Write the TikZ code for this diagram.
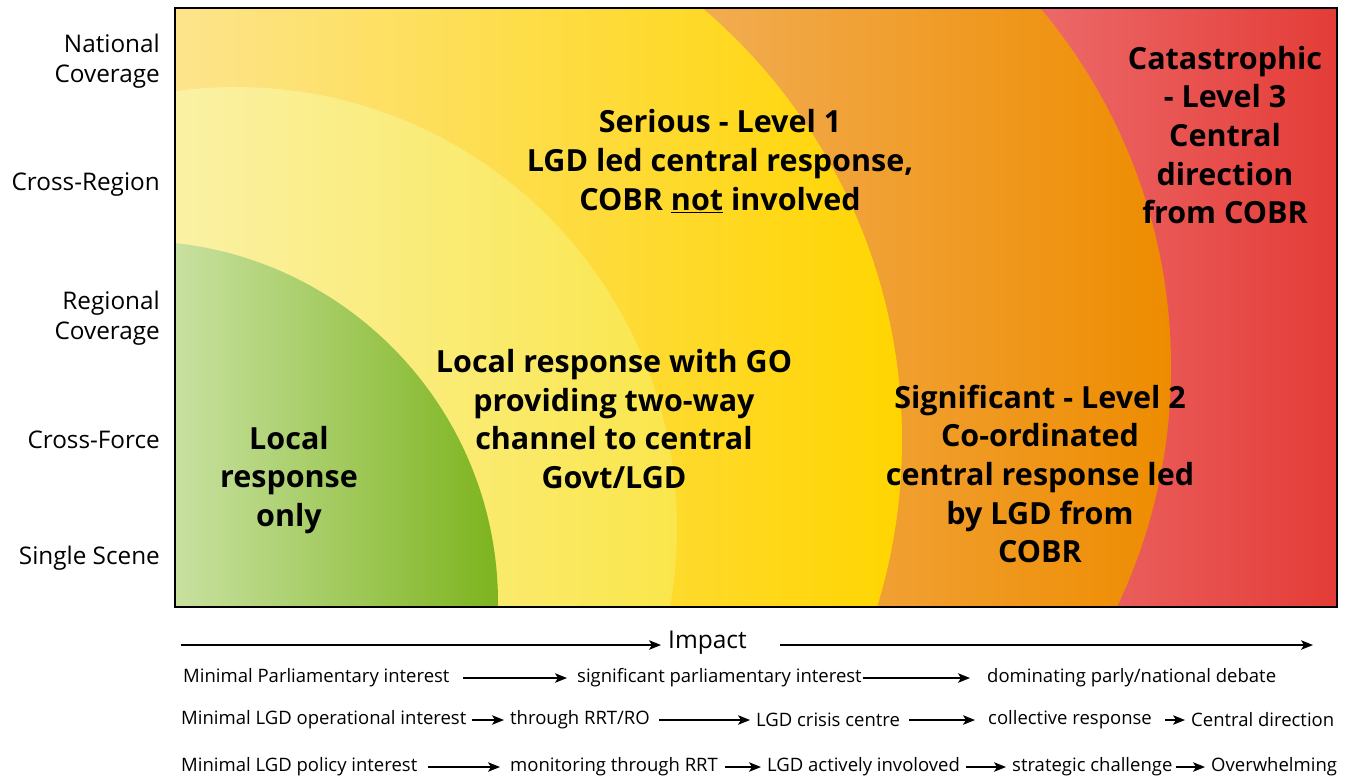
\documentclass[tikz,border=0pt]{standalone}
\usepackage{fontspec}
\setmainfont{Open Sans}
\usetikzlibrary{arrows.meta}

% zone colours (left end / right end of each horizontal blend)
\definecolor{greenL}{RGB}{200,225,160}
\definecolor{greenR}{RGB}{125,180,30}
\definecolor{paleL}{RGB}{250,241,165}
\definecolor{paleR}{RGB}{250,230,75}
\definecolor{yellowL}{RGB}{253,228,140}
\definecolor{yellowR}{RGB}{255,213,0}
\definecolor{orangeL}{RGB}{242,172,80}
\definecolor{orangeR}{RGB}{238,140,0}
\definecolor{redL}{RGB}{236,105,105}
\definecolor{redR}{RGB}{228,60,55}

\begin{document}
\begin{tikzpicture}[x=1pt,y=-1pt,
  zonetext/.style={align=center,inner sep=0pt,
    font=\fontsize{30.5}{38.7}\selectfont\bfseries},
  axislabel/.style={align=right,anchor=east,inner sep=0pt,
    font=\fontsize{24.3}{30}\selectfont},
  scaletext/.style={anchor=west,inner sep=0pt,
    font=\fontsize{18.5}{21}\selectfont},
  impacttext/.style={inner sep=0pt,font=\fontsize{24.5}{27}\selectfont},
  arr/.style={-{Stealth[length=12pt,width=9.5pt,inset=3pt]},line width=1.3pt}]

\useasboundingbox (0,0) rectangle (1354,780);
\fill[white] (0,0) rectangle (1354,780);

% ---- nested impact zones, each with a left-to-right blend ----
\begin{scope}
  \clip (175,8) rectangle (1337,607);
  % catastrophic (background)
  \fill[redL] (175,8) rectangle (1041,607);
  \shade[left color=redL,right color=redR] (1040,8) rectangle (1337,607);
  % significant
  \begin{scope}
    \clip (613,367) circle[radius=558pt];
    \fill[orangeL] (175,8) rectangle (706,607);
    \shade[left color=orangeL,right color=orangeR] (705,8) rectangle (1172,607);
  \end{scope}
  % serious
  \begin{scope}
    \clip (335,440) circle[radius=567pt];
    \shade[left color=yellowL,right color=yellowR] (175,8) rectangle (903,607);
  \end{scope}
  % local response with GO
  \begin{scope}
    \clip (236,528) circle[radius=441pt];
    \shade[left color=paleL,right color=paleR] (175,8) rectangle (677,607);
  \end{scope}
  % local response only
  \begin{scope}
    \clip (136,603) circle[radius=362pt];
    \shade[left color=greenL,right color=greenR] (175,8) rectangle (498,607);
  \end{scope}
\end{scope}
\draw[line width=1.5pt] (175,8) rectangle (1337,607);

% ---- zone captions ----
\node[zonetext] (serious) at (720,161) {Serious - Level 1\\LGD led central response,\\COBR \underline{not} involved};
\node[zonetext] (catastrophic) at (1225,135) {Catastrophic\\- Level 3\\Central\\direction\\from COBR};
\node[zonetext] (localgo) at (614,419) {Local response with GO\\providing two-way\\channel to central\\Govt/LGD};
\node[zonetext] (localonly) at (289,480) {Local\\response\\only};
\node[zonetext] (significant) at (1040,474) {Significant - Level 2\\Co-ordinated\\central response led\\by LGD from\\COBR};

% ---- coverage axis ----
\node[axislabel] (national) at (160,61) {National\\Coverage};
\node[axislabel] (crossregion) at (160,184) {Cross-Region};
\node[axislabel] (regional) at (160,318) {Regional\\Coverage};
\node[axislabel] (crossforce) at (160,440) {Cross-Force};
\node[axislabel] (single) at (160,558) {Single Scene};

% ---- impact axis ----
\coordinate (impstart) at (181,645);
\coordinate (impend) at (1313,645);
\node[impacttext,anchor=west] (impact) at (668,643) {Impact};
\draw[arr] (impstart) -- ([xshift=-7pt]impact.west |- impstart);
\draw[arr] ([xshift=33pt]impact.east |- impstart) -- (impend);

% parliamentary row
\node[scaletext] (p1) at (183,678) {Minimal Parliamentary interest};
\node[scaletext] (p2) at (577,678) {significant parliamentary interest};
\node[scaletext] (p3) at (987,678) {dominating parly/national debate};
\draw[arr] ([xshift=13pt]p1.east) -- ([xshift=-10pt]p2.west);
\draw[arr] ([xshift=1pt]p2.east) -- ([xshift=-17pt]p3.west);

% operational row
\node[scaletext] (o1) at (181,720) {Minimal LGD operational interest};
\node[scaletext] (o2) at (510,720) {through RRT/RO};
\node[scaletext] (o3) at (756,720) {LGD crisis centre};
\node[scaletext] (o4) at (988,720) {collective response};
\node[scaletext] (o5) at (1191,720) {Central direction};
\draw[arr] ([xshift=5pt]o1.east) -- ([xshift=-6pt]o2.west);
\draw[arr] ([xshift=9pt]o2.east) -- ([xshift=-6pt]o3.west);
\draw[arr] ([xshift=9pt]o3.east) -- ([xshift=-13pt]o4.west);
\draw[arr] ([xshift=13pt]o4.east) -- ([xshift=-6pt]o5.west);

% policy row
\node[scaletext] (q1) at (181,767) {Minimal LGD policy interest};
\node[scaletext] (q2) at (510,767) {monitoring through RRT};
\node[scaletext] (q3) at (767,767) {LGD actively involoved};
\node[scaletext] (q4) at (1012,767) {strategic challenge};
\node[scaletext] (q5) at (1211,767) {Overwhelming};
\draw[arr] ([xshift=11pt]q1.east) -- ([xshift=-10pt]q2.west);
\draw[arr] ([xshift=7pt]q2.east) -- ([xshift=-6pt]q3.west);
\draw[arr] ([xshift=6pt]q3.east) -- ([xshift=-6pt]q4.west);
\draw[arr] ([xshift=3pt]q4.east) -- ([xshift=-6pt]q5.west);

\end{tikzpicture}
\end{document}
